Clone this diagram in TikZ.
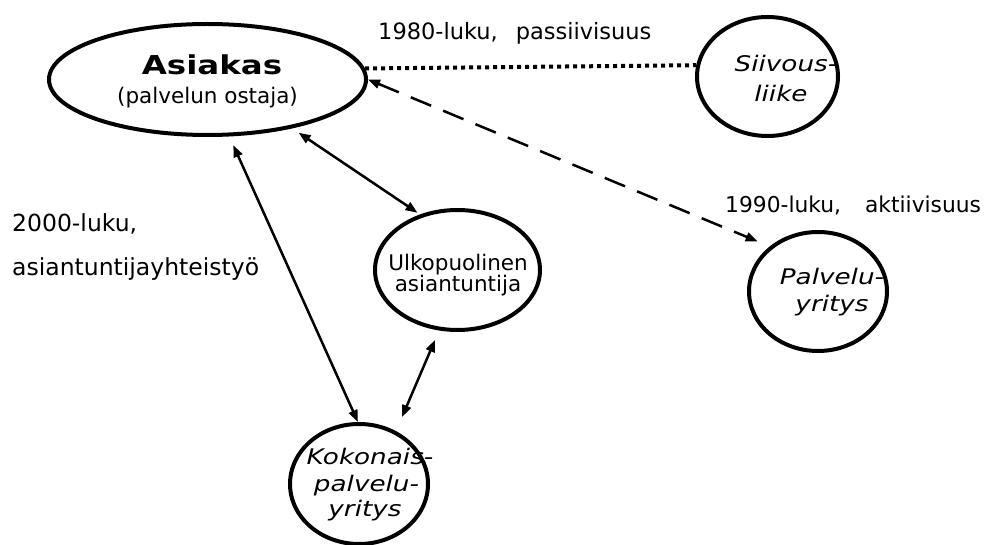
\documentclass[tikz,border=0pt]{standalone}
\usepackage{fontspec}
\setmainfont{DejaVu Sans}
\usepackage{graphicx}
\usetikzlibrary{arrows.meta,shapes.geometric}
\newcommand{\wideit}[1]{\scalebox{1.22}[1]{\itshape #1}}
\newcommand{\widebf}[1]{\scalebox{1.25}[1]{\bfseries\fontsize{26}{30}\selectfont #1}}
\begin{document}
\begin{tikzpicture}[x=1pt,y=-1pt,
  oval/.style={ellipse, draw, line width=4pt, inner sep=0pt},
  lbl/.style={font=\fontsize{21.5}{26}\selectfont, inner sep=0pt, anchor=base},
  conn/.style={line width=2.5pt, {Triangle[length=12pt,width=9pt]}-{Triangle[length=12pt,width=9pt]}},
  dotline/.style={line width=4pt, dash pattern=on 4pt off 4pt},
  dashline/.style={dash pattern=on 22pt off 13pt}
]
\useasboundingbox (0,0) rectangle (989,545);
% ovals
\node[oval, minimum width=317pt, minimum height=111pt] (asiakas) at (207.5,79.5) {};
\node[oval, minimum width=141pt, minimum height=119pt] (siivous) at (767.5,76.5) {};
\node[oval, minimum width=138pt, minimum height=119pt] (palvelu) at (818,291.5) {};
\node[oval, minimum width=165pt, minimum height=120pt] (ulko) at (457.5,270) {};
\node[oval, minimum width=138pt, minimum height=120pt] (kokonais) at (359,484) {};
% texts in ovals
\node[lbl] (asiakasT) at (212,75) {\widebf{Asiakas}};
\node[lbl] (ostajaT) at (207.5,104) {(palvelun ostaja)};
\node[lbl] (siivousT1) at (786,72) {\wideit{Siivous-}};
\node[lbl] (siivousT2) at (781,102) {\wideit{liike}};
\node[lbl] (palveluT1) at (832,285) {\wideit{Palvelu-}};
\node[lbl] (palveluT2) at (832,312) {\wideit{yritys}};
\node[lbl] (ulkoT1) at (458,271) {Ulkopuolinen};
\node[lbl] (ulkoT2) at (458,292) {asiantuntija};
\node[lbl] (kokonaisT1) at (370,465) {\wideit{Kokonais-}};
\node[lbl] (kokonaisT2) at (366.5,491.7) {\wideit{palvelu-}};
\node[lbl] (kokonaisT3) at (365,517) {\wideit{yritys}};
% free labels
\node[lbl, anchor=base west, font=\fontsize{22.5}{26}\selectfont] (l1980) at (378,40) {1980-luku,\hspace{18pt}passiivisuus};
\node[lbl, anchor=base west, font=\fontsize{21.8}{26}\selectfont] (l1990) at (725,213) {1990-luku,\hspace{24pt}aktiivisuus};
\node[lbl, anchor=base west, font=\fontsize{23.5}{26}\selectfont] (l2000a) at (12,232) {2000-luku,};
\node[lbl, anchor=base west, font=\fontsize{23.5}{26}\selectfont] (l2000b) at (12,276) {asiantuntijayhteistyö};
% connectors
\draw[dotline] (asiakas.4.95) -- (siivous.171.5);
\draw[conn, dashline, shorten >=13pt] (asiakas.east) -- (palvelu.137.75);
\draw[conn, shorten <=7.8pt, shorten >=3pt] (asiakas.-30.7) -- (ulko.124.5);
\draw[conn, shorten <=9.5pt] (asiakas.-69.2) -- (kokonais.91.8);
\draw[conn, shorten <=10.3pt, shorten >=15.3pt] (ulko.-107) -- (kokonais.55.03);
\end{tikzpicture}
\end{document}
